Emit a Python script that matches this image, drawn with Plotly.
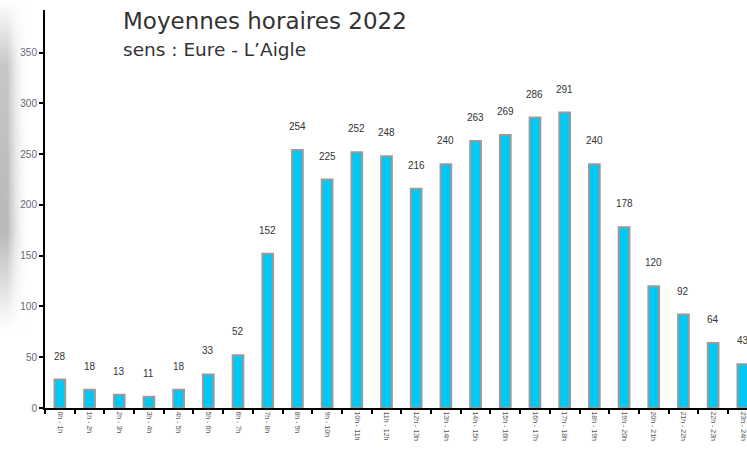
import base64
import plotly.graph_objects as go

hours = [f"{h}h - {h+1}h" for h in range(24)]
values = [28, 18, 13, 11, 18, 33, 52, 152, 254, 225, 252, 248,
          216, 240, 263, 269, 286, 291, 240, 178, 120, 92, 64, 43]
y_ticks = [0, 50, 100, 150, 200, 250, 300, 350]
title = "Moyennes horaires 2022"
subtitle = "sens : Eure - L\u2019Aigle"

W, H = 747, 450
L, T, B = 45, 10, 42
pw, ph = W - L, H - T - B

def px_x(p):
    return (p - L) / pw

def px_y(p):
    return (H - B - p) / ph

fig = go.Figure()
fig.add_trace(go.Bar(
    x=hours, y=values, width=0.36,
    marker=dict(color="#00C8F5", line=dict(color="#9a9a9a", width=2)),
    hoverinfo="x+y",
))

annotations = []
for h, v in zip(hours, values):
    annotations.append(dict(
        x=h, y=v, xref="x", yref="y", text=str(v), showarrow=False,
        yanchor="bottom", yshift=16,
        font=dict(family="Liberation Sans", size=10, color="#333"),
    ))
annotations.append(dict(
    x=px_x(121), y=px_y(21), xref="paper", yref="paper", text=title,
    showarrow=False, xanchor="left", yanchor="middle",
    font=dict(family="DejaVu Sans", size=23, color="#333"),
))
annotations.append(dict(
    x=px_x(121), y=px_y(49), xref="paper", yref="paper", text=subtitle,
    showarrow=False, xanchor="left", yanchor="middle",
    font=dict(family="DejaVu Sans", size=18.5, color="#333"),
))

svg = """<svg xmlns='http://www.w3.org/2000/svg' width='30' height='330'>
<defs>
<linearGradient id='h' x1='0' x2='1' y1='0' y2='0'>
<stop offset='0' stop-color='#a0a0a0' stop-opacity='0.75'/>
<stop offset='0.25' stop-color='#a8a8a8' stop-opacity='0.8'/>
<stop offset='0.6' stop-color='#d0d0d0' stop-opacity='0.4'/>
<stop offset='1' stop-color='#ffffff' stop-opacity='0'/>
</linearGradient>
<linearGradient id='v' x1='0' x2='0' y1='0' y2='1'>
<stop offset='0' stop-color='#fff' stop-opacity='0'/>
<stop offset='0.2' stop-color='#fff' stop-opacity='0.8'/>
<stop offset='0.7' stop-color='#fff' stop-opacity='1'/>
<stop offset='1' stop-color='#fff' stop-opacity='0'/>
</linearGradient>
<mask id='m'><rect width='30' height='330' fill='url(#v)'/></mask>
</defs>
<rect width='30' height='330' fill='url(#h)' mask='url(#m)'/>
</svg>"""
src = "data:image/svg+xml;base64," + base64.b64encode(svg.encode()).decode()

fig.update_layout(
    width=W, height=H,
    margin=dict(l=L, r=0, t=T, b=B, pad=0),
    paper_bgcolor="white", plot_bgcolor="white",
    showlegend=False,
    annotations=annotations,
    images=[dict(source=src, xref="paper", yref="paper",
                 x=px_x(0), y=px_y(0), sizex=30 / pw, sizey=330 / ph,
                 xanchor="left", yanchor="top", sizing="stretch",
                 layer="below")],
    xaxis=dict(
        type="category", range=[-0.5, 23.14], automargin=False,
        showline=True, linecolor="black", linewidth=2,
        ticks="outside", tickson="boundaries", ticklen=4,
        tickcolor="black", tickwidth=2,
        tickangle=90, tickfont=dict(family="Liberation Sans", size=7, color="#555"),
        showgrid=False, zeroline=False, fixedrange=True,
    ),
    yaxis=dict(
        range=[0, 392], tickvals=y_ticks, automargin=False,
        showline=True, linecolor="black", linewidth=2,
        ticks="outside", ticklen=4, tickcolor="black", tickwidth=2,
        tickfont=dict(family="Liberation Sans", size=10, color="#667"),
        showgrid=False, zeroline=False, fixedrange=True,
    ),
)

fig.write_html(
    "out.html",
    config={"displayModeBar": False},
    post_script="document.body.style.margin='0';document.body.style.overflow='hidden';",
)
